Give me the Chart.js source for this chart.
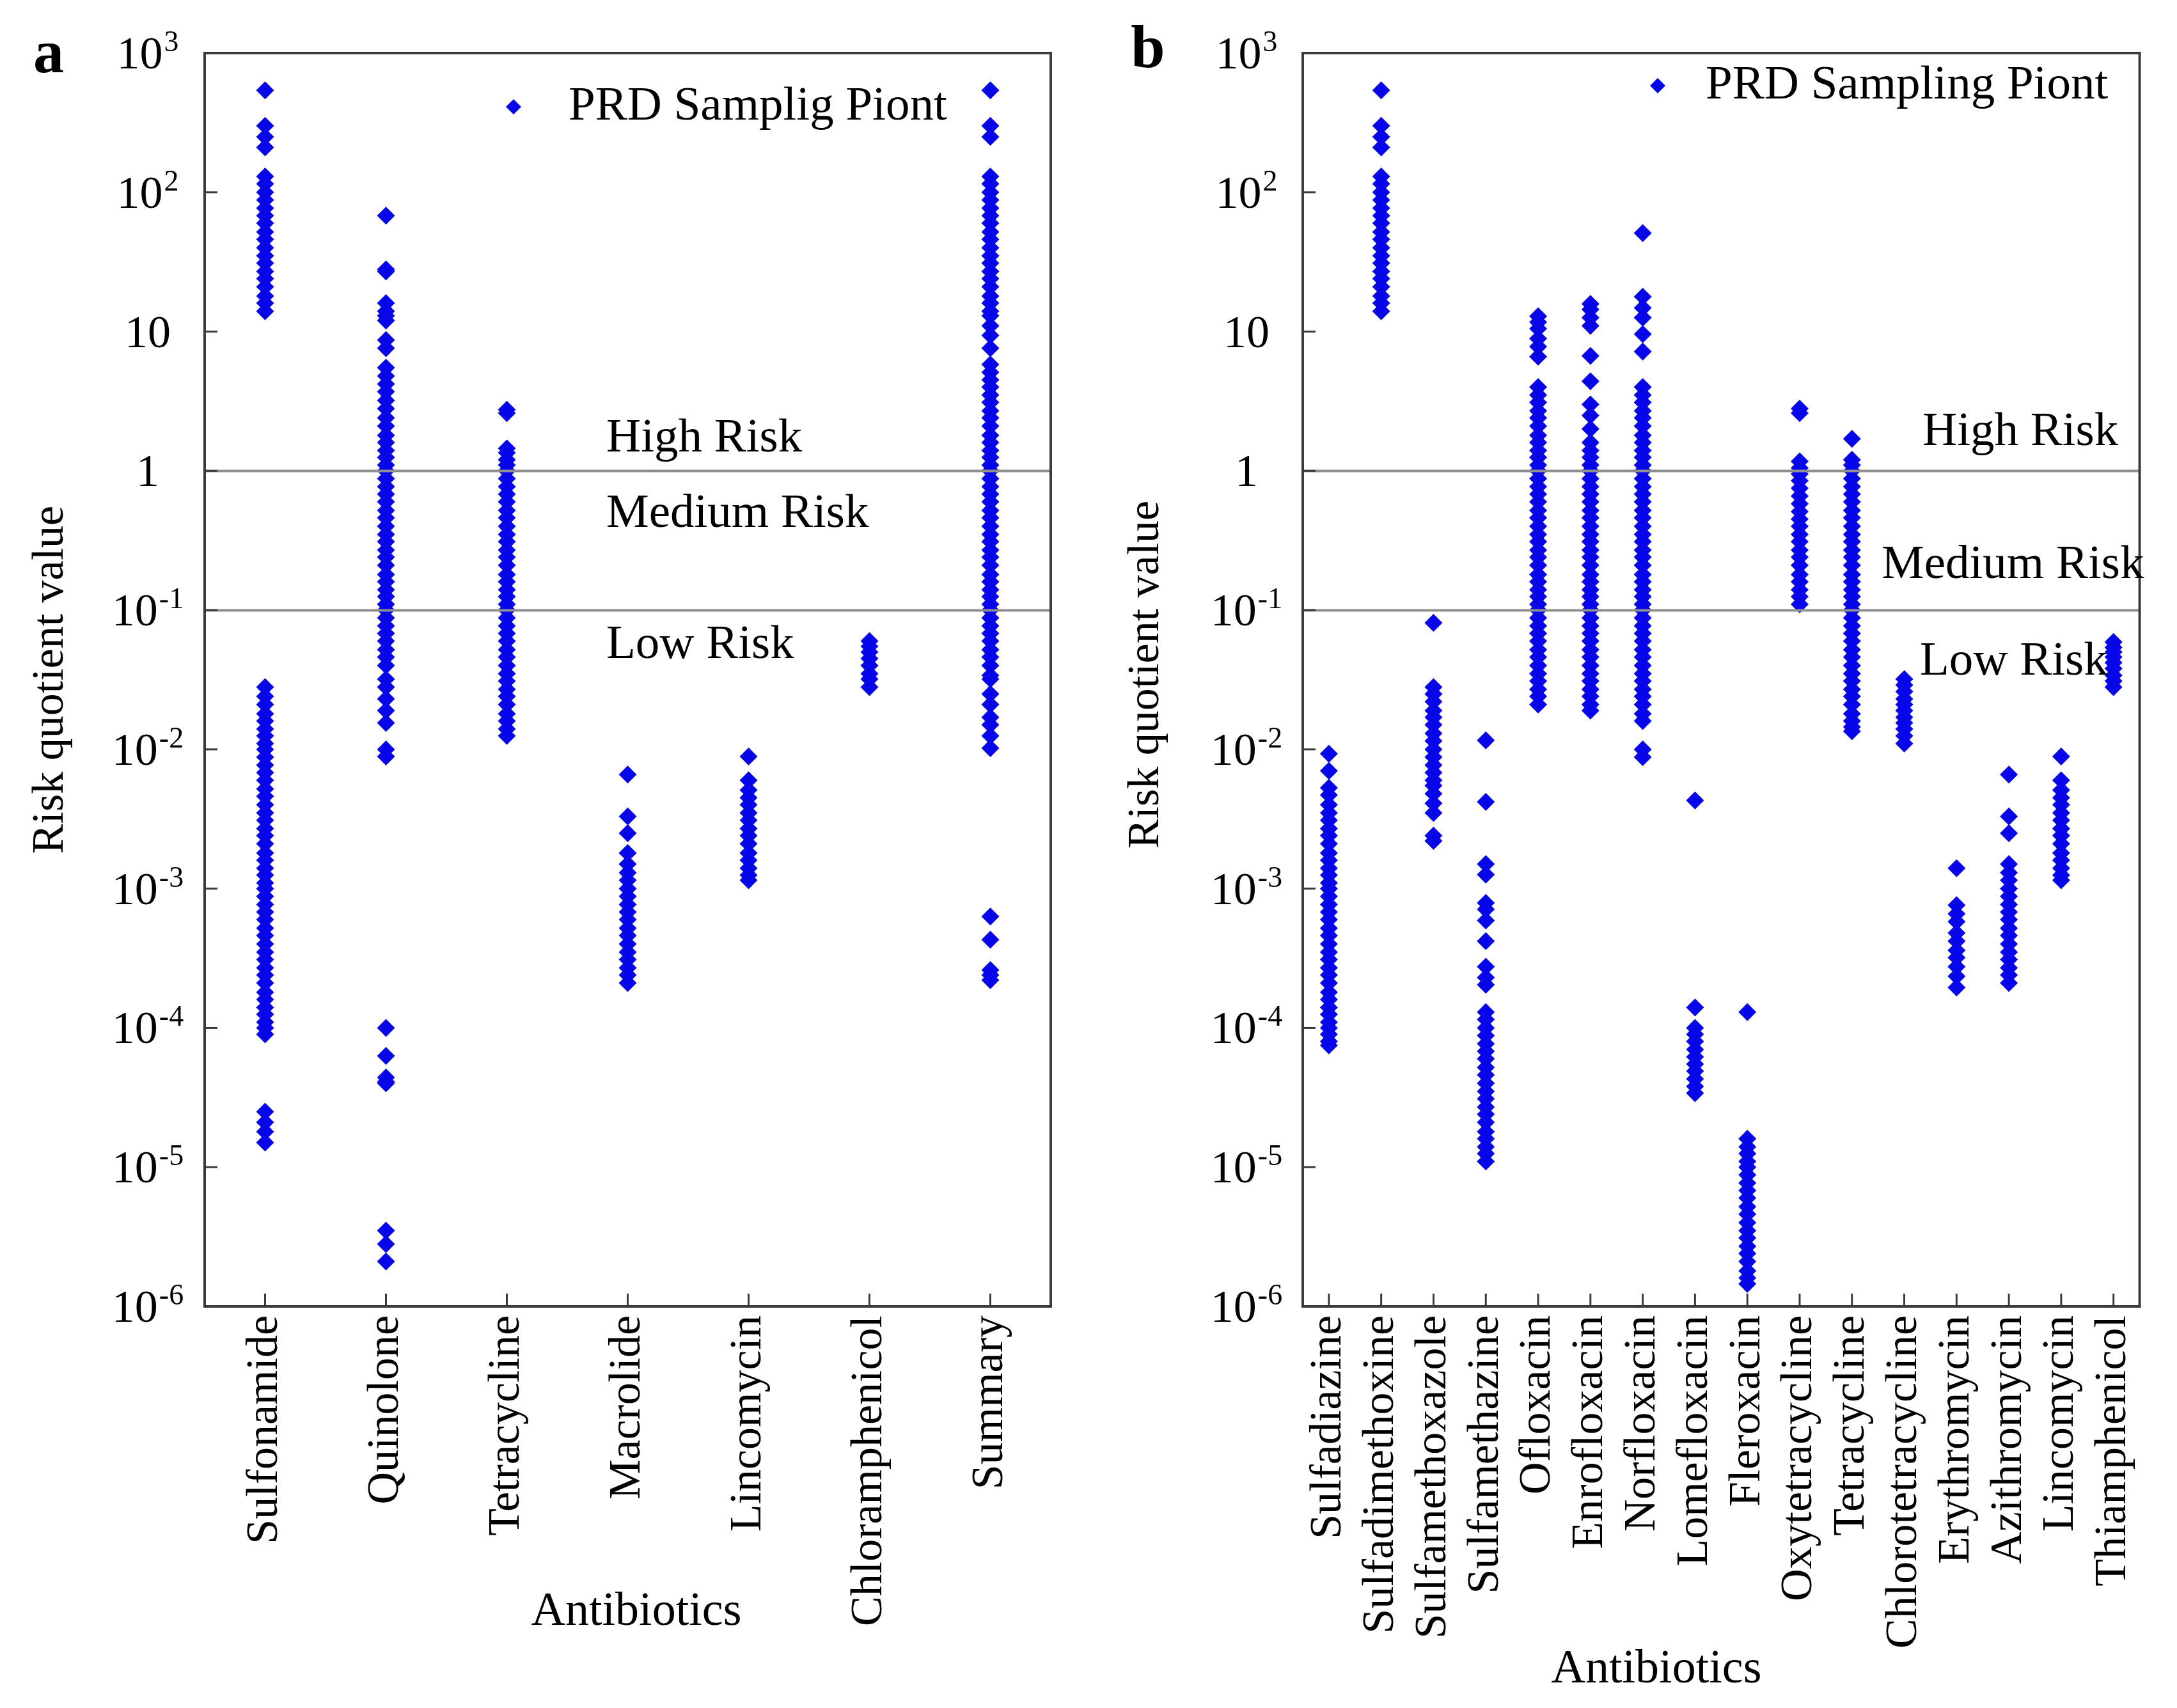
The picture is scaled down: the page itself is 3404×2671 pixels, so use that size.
<!DOCTYPE html>
<html>
<head>
<meta charset="utf-8">
<script src="https://cdn.jsdelivr.net/npm/chart.js@4.4.1/dist/chart.umd.min.js"></script>
<style>
  html, body { margin: 0; padding: 0; background: #fff; }
  #wrap { position: relative; width: 3404px; height: 2671px; overflow: hidden; background: #fff; }
  canvas { position: absolute; top: 0; }
  #panelA { left: 0; }
  #panelB { left: 1700px; }
</style>
</head>
<body>
<div id="wrap">
  <canvas id="panelA" width="1700" height="2671"></canvas>
  <canvas id="panelB" width="1704" height="2671"></canvas>
</div>
<script>
// ---- panel a: antibiotic classes ----
const classesA = ["Sulfonamide", "Quinolone", "Tetracycline", "Macrolide", "Lincomycin", "Chloramphenicol", "Summary"];

const sulfonamideA = [540, 300, 250, 210, 130, 115, 100, 88, 77, 68, 60, 52, 46, 40, 35, 31, 27, 24, 21, 18, 16, 14,
  0.028, 0.024, 0.021, 0.018, 0.016, 0.014, 0.0125, 0.011, 0.01, 0.0088, 0.0077, 0.0068, 0.006, 0.0052, 0.0046, 0.004,
  0.0035, 0.0031, 0.0027, 0.0024, 0.0021, 0.0018, 0.0016, 0.0014, 0.00125, 0.0011, 0.001, 8.8e-4, 7.7e-4, 6.8e-4, 6e-4,
  5.2e-4, 4.6e-4, 4e-4, 3.5e-4, 3.1e-4, 2.7e-4, 2.4e-4, 2.1e-4, 1.8e-4, 1.6e-4, 1.4e-4, 1.25e-4, 1.1e-4, 1e-4, 9e-5,
  2.5e-5, 2.1e-5, 1.8e-5, 1.5e-5];
const quinoloneA = [68, 28, 27, 16, 14, 13, 12, 8.7, 7.6, 5.5, 4.8, 4.2, 3.7, 3.2, 2.8, 2.4, 2.1, 1.8, 1.6, 1.4, 1.25, 1.1,
  1.0, 0.88, 0.77, 0.68, 0.6, 0.52, 0.46, 0.4, 0.35, 0.31, 0.27, 0.24, 0.21, 0.18, 0.16, 0.14, 0.125, 0.11, 0.1, 0.088,
  0.077, 0.068, 0.06, 0.052, 0.046, 0.04, 0.032, 0.028, 0.023, 0.019, 0.0155, 0.01, 0.0089,
  1e-4, 6.3e-5, 4.4e-5, 4.1e-5, 4e-5, 3.5e-6, 2.8e-6, 2.1e-6];
const tetracyclineA = [2.75, 2.6, 1.45, 1.35, 1.2, 1.1, 1.0, 0.88, 0.77, 0.68, 0.6, 0.52, 0.46, 0.4, 0.35, 0.31, 0.27, 0.24,
  0.21, 0.18, 0.16, 0.14, 0.125, 0.11, 0.1, 0.088, 0.077, 0.068, 0.06, 0.052, 0.046, 0.04, 0.035, 0.031, 0.027, 0.024,
  0.021, 0.018, 0.016, 0.014, 0.0125];
const macrolideA = [0.0066, 0.0033, 0.0025, 0.0018, 0.0015, 0.0013, 0.00115, 0.001, 8.8e-4, 7.7e-4, 6.8e-4, 6e-4, 5.2e-4,
  4.6e-4, 4e-4, 3.5e-4, 3.1e-4, 2.7e-4, 2.4e-4, 2.1e-4];
const lincomycinA = [0.0089, 0.006, 0.0051, 0.0045, 0.004, 0.0035, 0.0031, 0.0027, 0.0024, 0.0021, 0.0018, 0.0016, 0.0014,
  0.00125, 0.00115];
const chloramphenicolA = [0.06, 0.055, 0.05, 0.045, 0.04, 0.035, 0.032, 0.028];
const summaryA = [540, 300, 250, 130, 115, 100, 88, 77, 68, 60, 52, 46, 40, 35, 31, 27, 24, 21, 18, 16, 14, 13, 11, 9.4, 7.6,
  5.8, 5.1, 4.5, 4.0, 3.5, 3.1, 2.7, 2.4, 2.1, 1.8, 1.6, 1.4, 1.25, 1.1, 1.0, 0.88, 0.77, 0.68, 0.6, 0.52, 0.46, 0.4, 0.35,
  0.31, 0.27, 0.24, 0.21, 0.18, 0.16, 0.14, 0.125, 0.11, 0.1, 0.088, 0.077, 0.068, 0.06, 0.052, 0.046, 0.04, 0.034, 0.032,
  0.025, 0.021, 0.017, 0.015, 0.0125, 0.0102, 6.3e-4, 4.3e-4, 2.6e-4, 2.4e-4, 2.2e-4];

const seriesA = [sulfonamideA, quinoloneA, tetracyclineA, macrolideA, lincomycinA, chloramphenicolA, summaryA];

// ---- panel b: single compounds ----
const compoundsB = ["Sulfadiazine", "Sulfadimethoxine", "Sulfamethoxazole", "Sulfamethazine", "Ofloxacin", "Enrofloxacin",
  "Norfloxacin", "Lomefloxacin", "Fleroxacin", "Oxytetracycline", "Tetracycline", "Chlorotetracycline", "Erythromycin",
  "Azithromycin", "Lincomycin", "Thiamphenicol"];

const sulfadiazine = [0.0093, 0.007, 0.0053, 0.0047, 0.004, 0.0035, 0.0031, 0.0027, 0.0024, 0.0021, 0.0018, 0.0016, 0.0014,
  0.00125, 0.0011, 0.001, 8.8e-4, 7.7e-4, 6.8e-4, 6e-4, 5.2e-4, 4.6e-4, 4e-4, 3.5e-4, 3.1e-4, 2.7e-4, 2.4e-4, 2.1e-4,
  1.8e-4, 1.6e-4, 1.4e-4, 1.25e-4, 1.1e-4, 1e-4, 9e-5, 8e-5, 7.5e-5];
const sulfadimethoxine = [540, 300, 250, 210, 130, 115, 100, 88, 77, 68, 60, 52, 46, 40, 35, 31, 27, 24, 21, 18, 16, 14];
const sulfamethoxazole = [0.081, 0.028, 0.025, 0.022, 0.019, 0.017, 0.015, 0.013, 0.0115, 0.01, 0.0088, 0.0077, 0.0068,
  0.006, 0.0055, 0.0048, 0.0041, 0.0035, 0.0024, 0.0022];
const sulfamethazine = [0.0116, 0.0042, 0.0015, 0.00126, 7.9e-4, 7.1e-4, 5.9e-4, 4.2e-4, 2.75e-4, 2.3e-4, 2.04e-4, 1.3e-4,
  1.15e-4, 1e-4, 8.8e-5, 7.7e-5, 6.8e-5, 6e-5, 5.2e-5, 4.6e-5, 4e-5, 3.5e-5, 3.1e-5, 2.7e-5, 2.4e-5, 2.1e-5, 1.8e-5,
  1.6e-5, 1.4e-5, 1.25e-5, 1.1e-5];
const ofloxacin = [12.9, 11.7, 10.5, 8.9, 7.8, 6.6, 4.0, 3.5, 3.1, 2.7, 2.4, 2.1, 1.8, 1.6, 1.4, 1.25, 1.1, 1.0, 0.88, 0.77,
  0.68, 0.6, 0.52, 0.46, 0.4, 0.35, 0.31, 0.27, 0.24, 0.21, 0.18, 0.16, 0.14, 0.125, 0.11, 0.1, 0.088, 0.077, 0.068, 0.06,
  0.052, 0.046, 0.04, 0.035, 0.031, 0.027, 0.024, 0.021];
const enrofloxacin = [15.8, 14.4, 12.6, 11, 6.7, 4.4, 3.0, 2.5, 2.0, 1.6, 1.4, 1.25, 1.1, 1.0, 0.88, 0.77, 0.68, 0.6, 0.52,
  0.46, 0.4, 0.35, 0.31, 0.27, 0.24, 0.21, 0.18, 0.16, 0.14, 0.125, 0.11, 0.1, 0.088, 0.077, 0.068, 0.06, 0.052, 0.046,
  0.04, 0.035, 0.031, 0.027, 0.024, 0.021, 0.019];
const norfloxacin = [51, 17.8, 14.8, 12.6, 9.6, 7.2, 4.0, 3.5, 3.1, 2.7, 2.4, 2.1, 1.8, 1.6, 1.4, 1.25, 1.1, 1.0, 0.88, 0.77,
  0.68, 0.6, 0.52, 0.46, 0.4, 0.35, 0.31, 0.27, 0.24, 0.21, 0.18, 0.16, 0.14, 0.125, 0.11, 0.1, 0.088, 0.077, 0.068, 0.06,
  0.052, 0.046, 0.04, 0.035, 0.031, 0.027, 0.024, 0.021, 0.018, 0.016, 0.01, 0.0088];
const lomefloxacin = [0.0043, 1.4e-4, 1e-4, 9e-5, 8e-5, 7e-5, 6.2e-5, 5.5e-5, 4.9e-5, 4.3e-5, 3.8e-5, 3.4e-5];
const fleroxacin = [1.3e-4, 1.6e-5, 1.4e-5, 1.25e-5, 1.1e-5, 1e-5, 8.8e-6, 7.7e-6, 6.8e-6, 6e-6, 5.2e-6, 4.6e-6, 4e-6,
  3.5e-6, 3.1e-6, 2.7e-6, 2.4e-6, 2.1e-6, 1.8e-6, 1.6e-6, 1.45e-6];
const oxytetracycline = [2.8, 2.6, 1.17, 1.05, 0.95, 0.85, 0.75, 0.66, 0.58, 0.51, 0.45, 0.4, 0.35, 0.31, 0.27, 0.24, 0.21,
  0.18, 0.16, 0.14, 0.125, 0.11];
const tetracyclineB = [1.7, 1.2, 1.1, 1.0, 0.88, 0.77, 0.68, 0.6, 0.52, 0.46, 0.4, 0.35, 0.31, 0.27, 0.24, 0.21, 0.18, 0.16,
  0.14, 0.125, 0.11, 0.1, 0.088, 0.077, 0.068, 0.06, 0.052, 0.046, 0.04, 0.035, 0.031, 0.027, 0.024, 0.021, 0.018, 0.016,
  0.0145, 0.0135];
const chlorotetracycline = [0.032, 0.029, 0.026, 0.023, 0.021, 0.019, 0.017, 0.0155, 0.014, 0.0125, 0.011];
const erythromycin = [0.0014, 7.6e-4, 6.6e-4, 5.8e-4, 4.8e-4, 4.2e-4, 3.6e-4, 3.2e-4, 2.75e-4, 2.35e-4, 1.95e-4];
const azithromycin = [0.0066, 0.0033, 0.0025, 0.0015, 0.0013, 0.00115, 0.001, 8.8e-4, 7.7e-4, 6.8e-4, 6e-4, 5.2e-4, 4.6e-4,
  4e-4, 3.5e-4, 3.1e-4, 2.7e-4, 2.4e-4, 2.1e-4];
const lincomycinB = [0.0089, 0.006, 0.0051, 0.0045, 0.004, 0.0035, 0.0031, 0.0027, 0.0024, 0.0021, 0.0018, 0.0016, 0.0014,
  0.00125, 0.00115];
const thiamphenicol = [0.059, 0.054, 0.05, 0.046, 0.042, 0.038, 0.034, 0.031, 0.028];

const seriesB = [sulfadiazine, sulfadimethoxine, sulfamethoxazole, sulfamethazine, ofloxacin, enrofloxacin, norfloxacin,
  lomefloxacin, fleroxacin, oxytetracycline, tetracyclineB, chlorotetracycline, erythromycin, azithromycin, lincomycinB,
  thiamphenicol];

// y axis decades and their labels (base, exponent)
const yTickValues = [1e3, 1e2, 10, 1, 0.1, 1e-2, 1e-3, 1e-4, 1e-5, 1e-6];
const yTickLabels = [["10", "3"], ["10", "2"], ["10", ""], ["1", ""], ["10", "-1"], ["10", "-2"], ["10", "-3"],
  ["10", "-4"], ["10", "-5"], ["10", "-6"]];
const riskLevels = [1, 0.1];
const riskNames = ["High Risk", "Medium Risk", "Low Risk"];

const FONT = '"Liberation Serif", "Times New Roman", serif';
const BLUE = "rgb(6, 6, 232)";

function toPoints(cats, series) {
  const pts = [];
  cats.forEach((c, i) => series[i].forEach(v => pts.push({ x: c, y: v })));
  return pts;
}

// draws frame, inside ticks, y labels, titles, legend and risk texts
const decorPlugin = {
  id: "decor",
  afterDatasetsDraw(chart, args, o) {
    const ctx = chart.ctx;
    const a = chart.chartArea;
    const xs = chart.scales.x;
    const ys = chart.scales.y;
    ctx.save();

    // risk threshold lines
    ctx.strokeStyle = "#8f8f8f";
    ctx.lineWidth = 4;
    riskLevels.forEach(v => {
      const py = Math.round(ys.getPixelForValue(v)) + 0.5;
      ctx.beginPath();
      ctx.moveTo(a.left, py);
      ctx.lineTo(a.right, py);
      ctx.stroke();
    });

    // frame
    ctx.strokeStyle = "#3a3a3a";
    ctx.lineWidth = 4;
    ctx.strokeRect(a.left, a.top, a.right - a.left, a.bottom - a.top);

    // inside tick marks
    ctx.lineWidth = 3;
    yTickValues.forEach(v => {
      const py = ys.getPixelForValue(v);
      ctx.beginPath();
      ctx.moveTo(a.left, py);
      ctx.lineTo(a.left + 20, py);
      ctx.stroke();
    });
    xs.ticks.forEach((t, i) => {
      const px = xs.getPixelForTick(i);
      ctx.beginPath();
      ctx.moveTo(px, a.bottom);
      ctx.lineTo(px, a.bottom - 20);
      ctx.stroke();
    });

    // y tick labels with superscript exponents
    ctx.fillStyle = "#000";
    ctx.textBaseline = "alphabetic";
    ctx.textAlign = "left";
    yTickValues.forEach((v, i) => {
      const py = ys.getPixelForValue(v);
      const [base, exp] = yTickLabels[i];
      ctx.font = "72px " + FONT;
      const wb = ctx.measureText(base).width;
      ctx.font = "46px " + FONT;
      const we = exp ? ctx.measureText(exp).width + 2 : 0;
      const x0 = o.tickLabelX - (wb + we) / 2;
      const base_y = py + 24;
      ctx.font = "72px " + FONT;
      ctx.fillText(base, x0, base_y);
      if (exp) {
        ctx.font = "46px " + FONT;
        ctx.fillText(exp, x0 + wb + 2, base_y - 27);
      }
    });

    // y title
    ctx.save();
    ctx.translate(o.yTitle[0], o.yTitle[1]);
    ctx.rotate(-Math.PI / 2);
    ctx.font = "70px " + FONT;
    ctx.textAlign = "center";
    ctx.textBaseline = "middle";
    ctx.fillText("Risk quotient value", 0, 0);
    ctx.restore();

    // x title
    ctx.font = "74px " + FONT;
    ctx.textAlign = "center";
    ctx.textBaseline = "middle";
    ctx.fillText("Antibiotics", o.xTitle[0], o.xTitle[1]);

    // panel letter
    ctx.font = "bold 96px " + FONT;
    ctx.fillText(o.letter, o.letterPos[0], o.letterPos[1]);

    // legend
    const ds = chart.data.datasets[0];
    const [mx, my] = o.legendMarker;
    ctx.fillStyle = BLUE;
    ctx.beginPath();
    ctx.moveTo(mx, my - 12);
    ctx.lineTo(mx + 12, my);
    ctx.lineTo(mx, my + 12);
    ctx.lineTo(mx - 12, my);
    ctx.closePath();
    ctx.fill();
    ctx.fillStyle = "#000";
    ctx.font = "75px " + FONT;
    ctx.textAlign = "left";
    ctx.fillText(ds.label, o.legendText[0], o.legendText[1]);

    // risk zone texts
    riskNames.forEach((t, i) => ctx.fillText(t, o.riskText[i][0], o.riskText[i][1]));

    ctx.restore();
  }
};

function makePanel(id, cats, series, legendLabel, box, decor) {
  const canvas = document.getElementById(id);
  return new Chart(canvas.getContext("2d"), {
    type: "scatter",
    data: {
      labels: cats,
      datasets: [{
        label: legendLabel,
        data: toPoints(cats, series),
        pointStyle: "rectRot",
        pointRadius: 14,
        pointHoverRadius: 14,
        backgroundColor: BLUE,
        borderWidth: 0
      }]
    },
    options: {
      responsive: false,
      animation: false,
      devicePixelRatio: 1,
      layout: { padding: { top: box.top, right: box.right, left: 0, bottom: 0 } },
      plugins: {
        legend: { display: false },
        tooltip: { enabled: false },
        decor: decor
      },
      scales: {
        x: {
          type: "category",
          offset: true,
          grid: { display: false, drawTicks: false },
          border: { display: false },
          ticks: {
            autoSkip: false,
            minRotation: 90,
            maxRotation: 90,
            padding: 14,
            color: "#000",
            font: { family: FONT, size: 70 }
          },
          afterFit: s => { s.height = box.xHeight; }
        },
        y: {
          type: "logarithmic",
          min: 1e-6,
          max: 1e3,
          grid: { display: false, drawTicks: false },
          border: { display: false },
          ticks: { display: false },
          afterFit: s => { s.width = box.yWidth; }
        }
      }
    },
    plugins: [decorPlugin]
  });
}

function draw() {
  makePanel("panelA", classesA, seriesA, "PRD Samplig Piont",
    { top: 83, right: 57, xHeight: 628, yWidth: 320 },
    {
      letter: "a", letterPos: [76, 88],
      yTitle: [80, 1063], tickLabelX: 231,
      xTitle: [995, 2522],
      legendMarker: [803, 167], legendText: [889, 167],
      riskText: [[948, 686], [948, 804], [948, 1009]]
    });
  makePanel("panelB", compoundsB, seriesB, "PRD Sampling Piont",
    { top: 83, right: 42, xHeight: 628, yWidth: 337 },
    {
      letter: "b", letterPos: [95, 80],
      yTitle: [93, 1055], tickLabelX: 249,
      xTitle: [890, 2612],
      legendMarker: [892, 134], legendText: [967, 134],
      riskText: [[1306, 676], [1242, 884], [1302, 1035]]
    });
}

Promise.all([
  document.fonts.load('70px "Liberation Serif"'),
  document.fonts.load('bold 96px "Liberation Serif"')
]).then(draw, draw);
</script>
</body>
</html>
